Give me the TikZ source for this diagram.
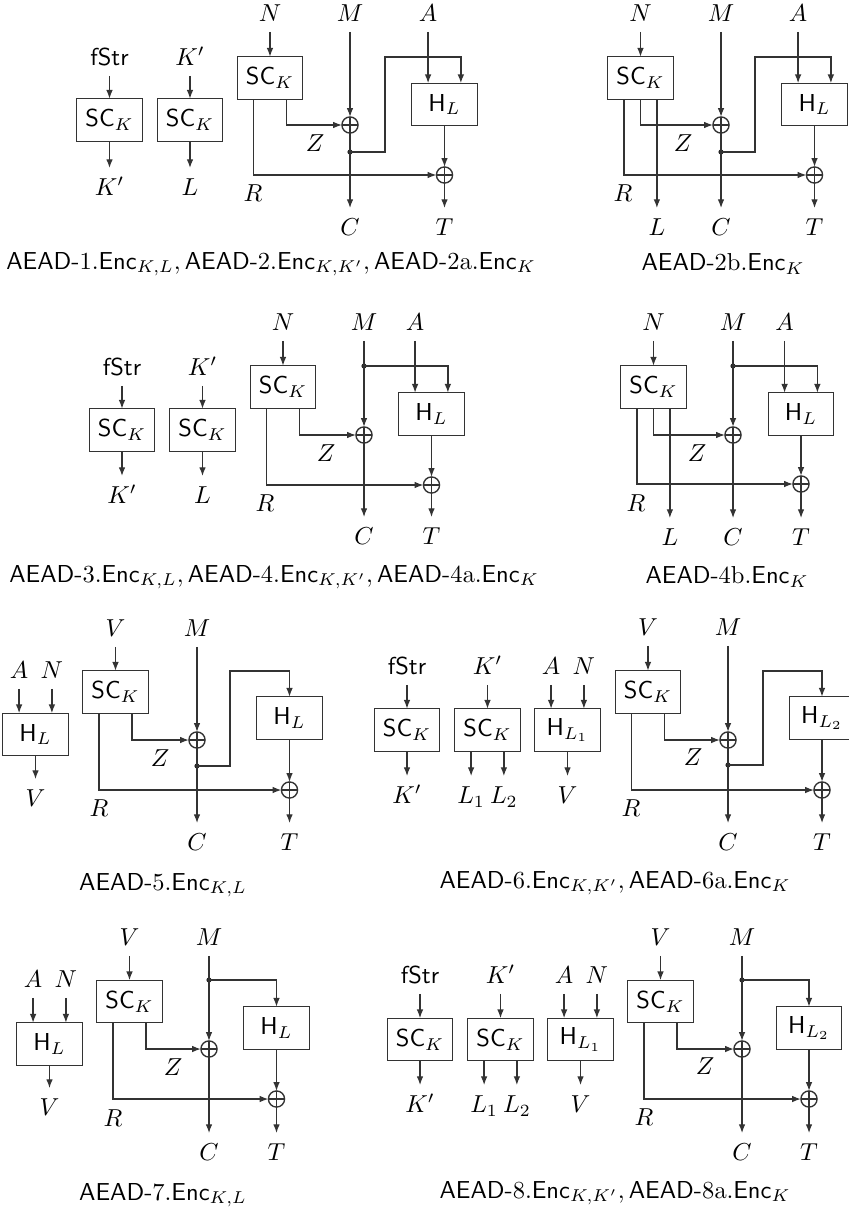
\documentclass[tikz,border=0pt]{standalone}
\usetikzlibrary{arrows.meta,calc}
\begin{document}
\begin{tikzpicture}[x=0.408pt,y=-0.408pt,
  lbl/.style={inner sep=0pt,outer sep=4.2pt,text height=7pt,text depth=0pt},
  box/.style={draw=black!80,line width=0.55pt,minimum width=26.72pt,minimum height=17.34pt,inner sep=0pt,outer sep=0pt},
  xor/.style={circle,draw=black!80,line width=0.55pt,minimum size=6.6pt,inner sep=0pt,outer sep=0pt,
    path picture={\draw[black!80,line width=0.55pt] (path picture bounding box.north) -- (path picture bounding box.south) (path picture bounding box.west) -- (path picture bounding box.east);}},
  arr/.style={draw=black!80,line width=0.55pt,-{Latex[length=3.6pt,width=2.7pt]}},
  dotn/.style={circle,fill=black!85,inner sep=0pt,minimum size=2.1pt},
  capt/.style={inner sep=0pt}]
\useasboundingbox (0,0) rectangle (848,1210);

% ================= ROW 1 =================
% panel 1a
\node[lbl] (fa) at (109.5,57) {\textsf{fStr}};
\node[box] (sa) at (109.5,120) {$\textsf{SC}_K$};
\node[lbl] (ka) at (109.5,187) {$K'$};
\draw[arr] (fa.south) -- (fa.south |- sa.north);
\draw[arr] (sa.south -| ka.north) -- (ka.north);
% panel 1b
\node[lbl] (kb) at (190,57) {$K'$};
\node[box] (sb) at (190,120) {$\textsf{SC}_K$};
\node[lbl] (lb) at (190,187) {$L$};
\draw[arr] (kb.south) -- (kb.south |- sb.north);
\draw[arr] (sb.south -| lb.north) -- (lb.north);
% panel 1c
\node[lbl] (N1) at (270,13) {$N$};
\node[box] (S1) at (270,78) {$\textsf{SC}_K$};
\node[lbl] (M1) at (350,13) {$M$};
\node[xor] (X1) at (350,125) {};
\node[box] (H1) at (444.5,104.5) {$\textsf{H}_L$};
\node[lbl] (A1) at (428.1,13) {$A$};
\node[xor] (Y1) at (444.5,175) {};
\node[dotn] (D1) at (350,152) {};
\coordinate (P1) at (385,57);
\node[lbl] (C1) at (350,227) {$C$};
\node[lbl] (T1) at (444.5,227) {$T$};
\node[lbl] (Z1) at (315,143) {$Z$};
\node[lbl] (R1) at (253,193) {$R$};
\draw[arr] (N1.south) -- (N1.south |- S1.north);
\draw[arr] (M1.south) -- (X1.north);
\draw[arr] (A1.south) -- (A1.south |- H1.north);
\draw[arr] ($(S1.south west)!.75!(S1.south east)$) |- (X1.west);
\draw[arr] ($(S1.south west)!.25!(S1.south east)$) |- (Y1.west);
\draw[arr] (D1.center) -| (P1) -| ($(H1.north west)!.75!(H1.north east)$);
\draw[arr] (H1.south) -- (Y1.north);
\draw[arr] (X1.south) -- (C1.north);
\draw[arr] (Y1.south) -- (T1.north);
\node[capt] (cap1) at (271,264) {$\textsf{AEAD-}1.\textsf{Enc}_{K,L}, \textsf{AEAD-}2.\textsf{Enc}_{K,K'}, \textsf{AEAD-}2\mathrm{a}.\textsf{Enc}_{K}$};
% panel 2 (row 1 right)
\node[lbl] (N2) at (640.5,13) {$N$};
\node[box] (S2) at (640.5,78) {$\textsf{SC}_K$};
\node[lbl] (M2) at (721,13) {$M$};
\node[xor] (X2) at (721,125) {};
\node[box] (H2) at (814.5,104.5) {$\textsf{H}_L$};
\node[lbl] (A2) at (798.1,13) {$A$};
\node[xor] (Y2) at (814.5,175) {};
\node[dotn] (D2) at (721,152) {};
\coordinate (P2) at (755,57);
\node[lbl] (L2) at (656.9,227) {$L$};
\node[lbl] (C2) at (721,227) {$C$};
\node[lbl] (T2) at (814.5,227) {$T$};
\node[lbl] (Z2) at (683,143) {$Z$};
\node[lbl] (R2) at (623,193) {$R$};
\draw[arr] (N2.south) -- (N2.south |- S2.north);
\draw[arr] (M2.south) -- (X2.north);
\draw[arr] (A2.south) -- (A2.south |- H2.north);
\draw[arr] (S2.south) |- (X2.west);
\draw[arr] ($(S2.south west)!.25!(S2.south east)$) |- (Y2.west);
\draw[arr] (S2.south -| L2.north) -- (L2.north);
\draw[arr] (D2.center) -| (P2) -| ($(H2.north west)!.75!(H2.north east)$);
\draw[arr] (H2.south) -- (Y2.north);
\draw[arr] (X2.south) -- (C2.north);
\draw[arr] (Y2.south) -- (T2.north);
\node[capt] (cap2) at (723,264) {$\textsf{AEAD-}2\mathrm{b}.\textsf{Enc}_{K}$};

% ================= ROW 2 =================
\node[lbl] (fc) at (122,367) {\textsf{fStr}};
\node[box] (sc) at (122,430) {$\textsf{SC}_K$};
\node[lbl] (kc) at (122,495) {$K'$};
\draw[arr] (fc.south) -- (fc.south |- sc.north);
\draw[arr] (sc.south -| kc.north) -- (kc.north);
\node[lbl] (kd) at (202.5,367) {$K'$};
\node[box] (sd) at (202.5,430) {$\textsf{SC}_K$};
\node[lbl] (ld) at (202.5,495) {$L$};
\draw[arr] (kd.south) -- (kd.south |- sd.north);
\draw[arr] (sd.south -| ld.north) -- (ld.north);
% main row 2 left
\node[lbl] (N3) at (283,322) {$N$};
\node[box] (S3) at (283,387) {$\textsf{SC}_K$};
\node[lbl] (M3) at (364,322) {$M$};
\node[xor] (X3) at (364,435) {};
\node[dotn] (D3) at (364,366) {};
\node[box] (H3) at (431.5,414) {$\textsf{H}_L$};
\node[lbl] (A3) at (415.1,322) {$A$};
\node[xor] (Y3) at (431.5,485) {};
\node[lbl] (C3) at (364,536) {$C$};
\node[lbl] (T3) at (431.5,536) {$T$};
\node[lbl] (Z3) at (326,453) {$Z$};
\node[lbl] (R3) at (265,503) {$R$};
\draw[arr] (N3.south) -- (N3.south |- S3.north);
\draw[arr] (M3.south) -- (X3.north);
\draw[arr] (A3.south) -- (A3.south |- H3.north);
\draw[arr] (D3.center) -| ($(H3.north west)!.75!(H3.north east)$);
\draw[arr] ($(S3.south west)!.75!(S3.south east)$) |- (X3.west);
\draw[arr] ($(S3.south west)!.25!(S3.south east)$) |- (Y3.west);
\draw[arr] (H3.south) -- (Y3.north);
\draw[arr] (X3.south) -- (C3.north);
\draw[arr] (Y3.south) -- (T3.north);
\node[capt] (cap3) at (274,577) {$\textsf{AEAD-}3.\textsf{Enc}_{K,L}, \textsf{AEAD-}4.\textsf{Enc}_{K,K'}, \textsf{AEAD-}4\mathrm{a}.\textsf{Enc}_{K}$};
% row 2 right
\node[lbl] (N4) at (653.5,322) {$N$};
\node[box] (S4) at (653.5,387) {$\textsf{SC}_K$};
\node[lbl] (M4) at (733,322) {$M$};
\node[xor] (X4) at (733,435) {};
\node[dotn] (D4) at (733,366) {};
\node[box] (H4) at (801,414) {$\textsf{H}_L$};
\node[lbl] (A4) at (784.6,322) {$A$};
\node[xor] (Y4) at (801,484) {};
\node[lbl] (L4) at (669.9,537) {$L$};
\node[lbl] (C4) at (733,537) {$C$};
\node[lbl] (T4) at (801,537) {$T$};
\node[lbl] (Z4) at (697,453) {$Z$};
\node[lbl] (R4) at (636,503) {$R$};
\draw[arr] (N4.south) -- (N4.south |- S4.north);
\draw[arr] (M4.south) -- (X4.north);
\draw[arr] (A4.south) -- (A4.south |- H4.north);
\draw[arr] (D4.center) -| ($(H4.north west)!.75!(H4.north east)$);
\draw[arr] (S4.south) |- (X4.west);
\draw[arr] ($(S4.south west)!.25!(S4.south east)$) |- (Y4.west);
\draw[arr] (S4.south -| L4.north) -- (L4.north);
\draw[arr] (H4.south) -- (Y4.north);
\draw[arr] (X4.south) -- (C4.north);
\draw[arr] (Y4.south) -- (T4.north);
\node[capt] (cap4) at (727,577) {$\textsf{AEAD-}4\mathrm{b}.\textsf{Enc}_{K}$};

% ================= ROW 3 =================
\node[lbl] (Ae) at (19.1,670) {$A$};
\node[lbl] (Ne) at (51.9,670) {$N$};
\node[box] (he) at (35.5,734.5) {$\textsf{H}_L$};
\node[lbl] (Ve) at (35.5,798) {$V$};
\draw[arr] (Ae.south) -- (Ae.south |- he.north);
\draw[arr] (Ne.south) -- (Ne.south |- he.north);
\draw[arr] (he.south -| Ve.north) -- (Ve.north);
% main row 3 left
\node[lbl] (V5) at (115.5,628) {$V$};
\node[box] (S5) at (115.5,692) {$\textsf{SC}_K$};
\node[lbl] (M5) at (197,628) {$M$};
\node[xor] (X5) at (197,740) {};
\node[dotn] (D5) at (197,766) {};
\coordinate (P5) at (230,671);
\node[box] (H5) at (289.5,718) {$\textsf{H}_L$};
\node[xor] (Y5) at (289.5,790) {};
\node[lbl] (C5) at (197,842) {$C$};
\node[lbl] (T5) at (289.5,842) {$T$};
\node[lbl] (Z5) at (160,758) {$Z$};
\node[lbl] (R5) at (99,808) {$R$};
\draw[arr] (V5.south) -- (V5.south |- S5.north);
\draw[arr] (M5.south) -- (X5.north);
\draw[arr] ($(S5.south west)!.75!(S5.south east)$) |- (X5.west);
\draw[arr] ($(S5.south west)!.25!(S5.south east)$) |- (Y5.west);
\draw[arr] (D5.center) -| (P5) -| (H5.north);
\draw[arr] (H5.south) -- (Y5.north);
\draw[arr] (X5.south) -- (C5.north);
\draw[arr] (Y5.south) -- (T5.north);
\node[capt] (cap5) at (163,885) {$\textsf{AEAD-}5.\textsf{Enc}_{K,L}$};
% row 3 right small panels
\node[lbl] (ff) at (407,666) {\textsf{fStr}};
\node[box] (sf) at (407,730) {$\textsf{SC}_K$};
\node[lbl] (kf) at (407,795) {$K'$};
\draw[arr] (ff.south) -- (ff.south |- sf.north);
\draw[arr] (sf.south -| kf.north) -- (kf.north);
\node[lbl] (kg) at (487.5,666) {$K'$};
\node[box] (sg) at (487.5,730) {$\textsf{SC}_K$};
\node[lbl] (lg1) at (471.1,795) {$L_1$};
\node[lbl] (lg2) at (503.9,795) {$L_2$};
\draw[arr] (kg.south) -- (kg.south |- sg.north);
\draw[arr] (sg.south -| lg1.north) -- (lg1.north);
\draw[arr] (sg.south -| lg2.north) -- (lg2.north);
\node[lbl] (Ah) at (551.1,666) {$A$};
\node[lbl] (Nh) at (583.9,666) {$N$};
\node[box] (hh) at (567.5,730) {$\textsf{H}_{L_1}$};
\node[lbl] (Vh) at (567.5,795) {$V$};
\draw[arr] (Ah.south) -- (Ah.south |- hh.north);
\draw[arr] (Nh.south) -- (Nh.south |- hh.north);
\draw[arr] (hh.south -| Vh.north) -- (Vh.north);
% row 3 right main
\node[lbl] (V6) at (648,627) {$V$};
\node[box] (S6) at (648,692) {$\textsf{SC}_K$};
\node[lbl] (M6) at (728,627) {$M$};
\node[xor] (X6) at (728,740) {};
\node[dotn] (D6) at (728,765) {};
\coordinate (P6) at (763,671);
\node[box] (H6) at (822,718) {$\textsf{H}_{L_2}$};
\node[xor] (Y6) at (822,790) {};
\node[lbl] (C6) at (728,842) {$C$};
\node[lbl] (T6) at (822,842) {$T$};
\node[lbl] (Z6) at (693,757) {$Z$};
\node[lbl] (R6) at (631,808) {$R$};
\draw[arr] (V6.south) -- (V6.south |- S6.north);
\draw[arr] (M6.south) -- (X6.north);
\draw[arr] ($(S6.south west)!.75!(S6.south east)$) |- (X6.west);
\draw[arr] ($(S6.south west)!.25!(S6.south east)$) |- (Y6.west);
\draw[arr] (D6.center) -| (P6) -| (H6.north);
\draw[arr] (H6.south) -- (Y6.north);
\draw[arr] (X6.south) -- (C6.north);
\draw[arr] (Y6.south) -- (T6.north);
\node[capt] (cap6) at (615,883) {$\textsf{AEAD-}6.\textsf{Enc}_{K,K'}, \textsf{AEAD-}6\mathrm{a}.\textsf{Enc}_{K}$};

% ================= ROW 4 =================
\node[lbl] (Ai) at (33.1,979) {$A$};
\node[lbl] (Ni) at (65.9,979) {$N$};
\node[box] (hi) at (49.5,1044) {$\textsf{H}_L$};
\node[lbl] (Vi) at (49.5,1107) {$V$};
\draw[arr] (Ai.south) -- (Ai.south |- hi.north);
\draw[arr] (Ni.south) -- (Ni.south |- hi.north);
\draw[arr] (hi.south -| Vi.north) -- (Vi.north);
% main row 4 left
\node[lbl] (V7) at (129.5,937) {$V$};
\node[box] (S7) at (129.5,1001.5) {$\textsf{SC}_K$};
\node[lbl] (M7) at (209,937) {$M$};
\node[dotn] (D7) at (209,980) {};
\node[xor] (X7) at (209,1049) {};
\node[box] (H7) at (276.5,1028) {$\textsf{H}_L$};
\node[xor] (Y7) at (276.5,1099) {};
\node[lbl] (C7) at (209,1152) {$C$};
\node[lbl] (T7) at (276.5,1152) {$T$};
\node[lbl] (Z7) at (173,1067) {$Z$};
\node[lbl] (R7) at (113,1118) {$R$};
\draw[arr] (V7.south) -- (V7.south |- S7.north);
\draw[arr] (M7.south) -- (X7.north);
\draw[arr] (D7.center) -| (H7.north);
\draw[arr] ($(S7.south west)!.75!(S7.south east)$) |- (X7.west);
\draw[arr] ($(S7.south west)!.25!(S7.south east)$) |- (Y7.west);
\draw[arr] (H7.south) -- (Y7.north);
\draw[arr] (X7.south) -- (C7.north);
\draw[arr] (Y7.south) -- (T7.north);
\node[capt] (cap7) at (163,1195) {$\textsf{AEAD-}7.\textsf{Enc}_{K,L}$};
% row 4 right small panels
\node[lbl] (fj) at (420,975) {\textsf{fStr}};
\node[box] (sj) at (420,1039.5) {$\textsf{SC}_K$};
\node[lbl] (kj) at (420,1104) {$K'$};
\draw[arr] (fj.south) -- (fj.south |- sj.north);
\draw[arr] (sj.south -| kj.north) -- (kj.north);
\node[lbl] (kk) at (500.5,975) {$K'$};
\node[box] (sk) at (500.5,1039.5) {$\textsf{SC}_K$};
\node[lbl] (lk1) at (484.1,1104) {$L_1$};
\node[lbl] (lk2) at (516.9,1104) {$L_2$};
\draw[arr] (kk.south) -- (kk.south |- sk.north);
\draw[arr] (sk.south -| lk1.north) -- (lk1.north);
\draw[arr] (sk.south -| lk2.north) -- (lk2.north);
\node[lbl] (Am) at (564.1,975) {$A$};
\node[lbl] (Nm) at (596.9,975) {$N$};
\node[box] (hm) at (580.5,1039.5) {$\textsf{H}_{L_1}$};
\node[lbl] (Vm) at (580.5,1104) {$V$};
\draw[arr] (Am.south) -- (Am.south |- hm.north);
\draw[arr] (Nm.south) -- (Nm.south |- hm.north);
\draw[arr] (hm.south -| Vm.north) -- (Vm.north);
% row 4 right main
\node[lbl] (V8) at (660.5,937) {$V$};
\node[box] (S8) at (660.5,1001.5) {$\textsf{SC}_K$};
\node[lbl] (M8) at (742,937) {$M$};
\node[dotn] (D8) at (742,980) {};
\node[xor] (X8) at (742,1049) {};
\node[box] (H8) at (809,1028) {$\textsf{H}_{L_2}$};
\node[xor] (Y8) at (809,1099) {};
\node[lbl] (C8) at (742,1152) {$C$};
\node[lbl] (T8) at (809,1152) {$T$};
\node[lbl] (Z8) at (705,1066) {$Z$};
\node[lbl] (R8) at (644,1117) {$R$};
\draw[arr] (V8.south) -- (V8.south |- S8.north);
\draw[arr] (M8.south) -- (X8.north);
\draw[arr] (D8.center) -| (H8.north);
\draw[arr] ($(S8.south west)!.75!(S8.south east)$) |- (X8.west);
\draw[arr] ($(S8.south west)!.25!(S8.south east)$) |- (Y8.west);
\draw[arr] (H8.south) -- (Y8.north);
\draw[arr] (X8.south) -- (C8.north);
\draw[arr] (Y8.south) -- (T8.north);
\node[capt] (cap8) at (615,1193) {$\textsf{AEAD-}8.\textsf{Enc}_{K,K'}, \textsf{AEAD-}8\mathrm{a}.\textsf{Enc}_{K}$};
\end{tikzpicture}
\end{document}
